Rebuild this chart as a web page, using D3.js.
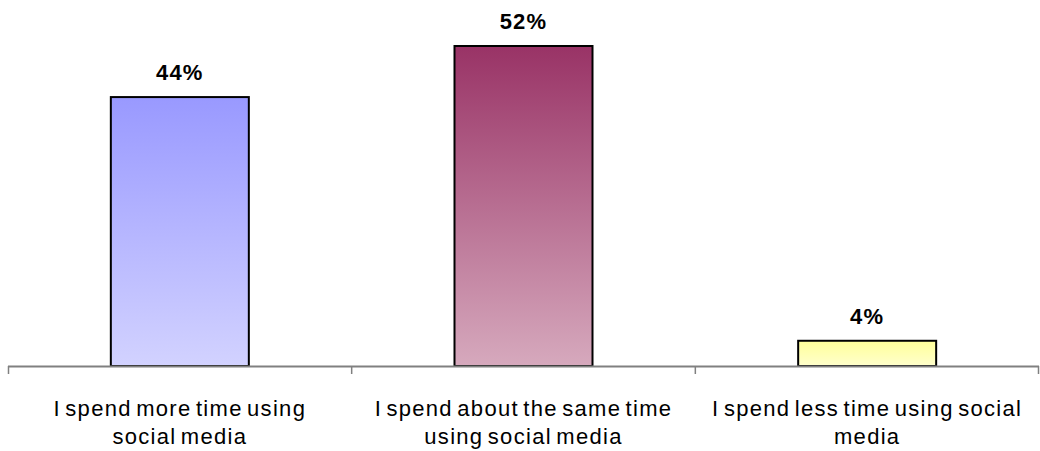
<!DOCTYPE html>
<html>
<head>
<meta charset="utf-8">
<script src="https://cdn.jsdelivr.net/npm/d3@7"></script>
<style>
  body { margin: 0; background: #fff; }
  svg text { font-family: "Liberation Sans", Arial, sans-serif; }
</style>
</head>
<body>
<div id="chart"></div>
<script>
const categories = [
    ["I spend more time using", "social media"],
    ["I spend about the same time", "using social media"],
    ["I spend less time using social", "media"]
]
const values = [43.7, 52.0, 4.1]
const topColors = ["#9999ff", "#993366", "#ffff99"]
const bottomColors = ["#d2d2ff", "#d6a9bd", "#ffffcc"]

const W = 1040, H = 451
const margin = { top: 46, right: 1, bottom: 85, left: 8 }
const width = W - margin.left - margin.right,
    height = H - margin.top - margin.bottom

const svg = d3.select("#chart").append("svg")
    .attr("width", W)
    .attr("height", H)

const defs = svg.append("defs")
values.forEach((v, i) => {
    const g = defs.append("linearGradient")
        .attr("id", "grad" + i)
        .attr("x1", 0).attr("y1", 0).attr("x2", 0).attr("y2", 1)
    g.append("stop").attr("offset", "0%").attr("stop-color", topColors[i])
    g.append("stop").attr("offset", "100%").attr("stop-color", bottomColors[i])
})

const g = svg.append("g")
    .attr("transform", "translate(" + margin.left + "," + margin.top + ")")

const xs = d3.scaleBand().domain(d3.range(values.length)).range([0, width])

const y = d3.scaleLinear()
    .domain([0, 52])
    .range([height, 0])

const barW = 138

// bars
g.selectAll("rect.bar")
    .data(values)
    .join("rect")
    .attr("class", "bar")
    .attr("x", (d, i) => xs(i) + xs.bandwidth() / 2 - barW / 2)
    .attr("width", barW)
    .attr("y", d => y(d))
    .attr("height", d => height - y(d))
    .attr("fill", (d, i) => "url(#grad" + i + ")")
    .attr("stroke", "#000")
    .attr("stroke-width", 2)

// axis
g.append("line")
    .attr("x1", 0).attr("x2", width)
    .attr("y1", height + 0.5).attr("y2", height + 0.5)
    .attr("stroke", "#808080")
    .attr("stroke-width", 2)

const tickXs = d3.range(values.length + 1).map(i => i === values.length ? width : xs(i))
g.selectAll("line.tick")
    .data(tickXs)
    .join("line")
    .attr("class", "tick")
    .attr("x1", d => Math.min(Math.max(d, 0.5), width - 0.5))
    .attr("x2", d => Math.min(Math.max(d, 0.5), width - 0.5))
    .attr("y1", height)
    .attr("y2", height + 8)
    .attr("stroke", "#808080")
    .attr("stroke-width", 1.5)

// value labels
g.selectAll("text.val")
    .data(values)
    .join("text")
    .attr("class", "val")
    .attr("x", (d, i) => xs(i) + xs.bandwidth() / 2)
    .attr("y", d => y(d) - 17)
    .attr("text-anchor", "middle")
    .attr("font-size", 22)
    .attr("font-weight", "bold")
    .attr("letter-spacing", 1.2)
    .attr("fill", "#000")
    .text(d => d3.format(".0f")(d) + "%")

// category labels
const cat = g.selectAll("text.cat")
    .data(categories)
    .join("text")
    .attr("class", "cat")
    .attr("text-anchor", "middle")
    .attr("font-size", 22)
    .attr("fill", "#000")
    .attr("letter-spacing", 1.3)
    .attr("word-spacing", -3)
    .attr("transform", (d, i) => "translate(" + (xs(i) + xs.bandwidth() / 2) + "," + (height + 50) + ")")

cat.selectAll("tspan")
    .data(d => d)
    .join("tspan")
    .attr("x", 0)
    .attr("dy", (d, j) => j === 0 ? 0 : 28)
    .text(d => d)
</script>
</body>
</html>
